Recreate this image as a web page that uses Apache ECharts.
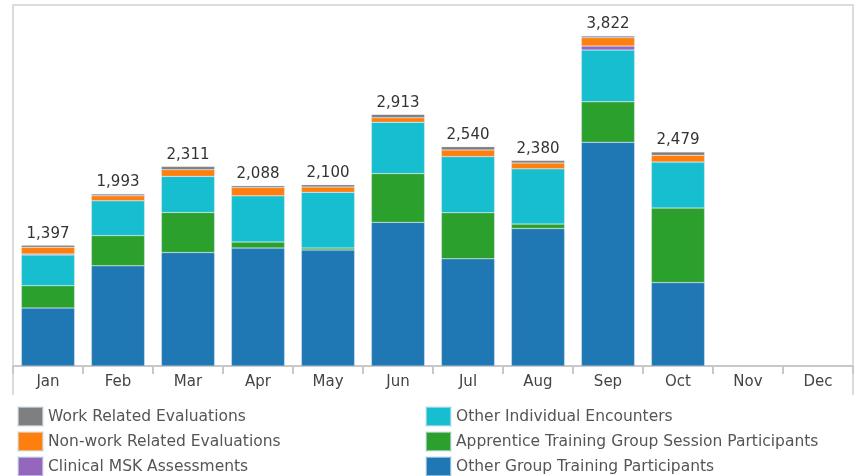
<!DOCTYPE html>
<html>
<head>
<meta charset="utf-8">
<script src="https://cdn.jsdelivr.net/npm/echarts@6/dist/echarts.min.js"></script>
<style>
  html, body { margin: 0; padding: 0; background: #fff; }
  #chart { width: 859px; height: 476px; }
</style>
</head>
<body>
<div id="chart"></div>
<script>
  // months on the x axis
  var months = ['Jan', 'Feb', 'Mar', 'Apr', 'May', 'Jun', 'Jul', 'Aug', 'Sep', 'Oct', 'Nov', 'Dec'];

  // stacked series, bottom to top
  var otherGroup    = [672, 1160, 1314, 1366, 1343, 1663, 1241, 1592, 2590, 966, null, null];
  var apprentice    = [258, 350, 464, 70, 23, 565, 534, 51, 469, 863, null, null];
  var otherIndiv    = [356, 404, 418, 535, 645, 595, 650, 641, 599, 534, null, null];
  var clinicalMsk   = [10, 0, 0, 0, 0, 0, 0, 0, 46, 0, null, null];
  var nonWorkEval   = [78, 56, 77, 97, 62, 51, 77, 66, 97, 77, null, null];
  var workEval      = [23, 23, 38, 20, 27, 39, 38, 30, 21, 39, null, null];

  // totals printed over the bars
  var totals = [1397, 1993, 2311, 2088, 2100, 2913, 2540, 2380, 3822, 2479, null, null];

  var font = 'DejaVu Sans';
  var chart = echarts.init(document.getElementById('chart'));

  function bar(name, data, color, withTotal) {
    var s = {
      name: name,
      type: 'bar',
      stack: 'all',
      data: data,
      barCategoryGap: '24%',
      itemStyle: { color: color, borderColor: 'rgba(210,228,240,0.6)', borderWidth: 0.5 },
      emphasis: { disabled: true }
    };
    if (withTotal) {
      s.label = {
        show: true,
        position: 'top',
        distance: 4,
        color: '#333',
        fontFamily: font,
        fontSize: 15,
        formatter: function (p) {
          var t = totals[p.dataIndex];
          return t == null ? '' : t.toLocaleString('en-US');
        }
      };
    }
    return s;
  }

  var legendBase = {
    top: 406, height: 90, padding: 0, orient: 'vertical',
    itemWidth: 25, itemHeight: 19, itemGap: 4,
    icon: 'rect',
    textStyle: { color: '#555', fontFamily: font, fontSize: 15.5 }
  };

  var option = {
    animation: false,
    grid: { left: 13, right: 6, top: 5, bottom: 110 },
    xAxis: {
      type: 'category',
      data: months,
      axisLine: { lineStyle: { color: '#c8c8c8', width: 2 } },
      axisTick: { show: true, length: 8, lineStyle: { color: '#c8c8c8', width: 2 } },
      axisLabel: { color: '#444', fontFamily: font, fontSize: 15, margin: 9 }
    },
    yAxis: {
      type: 'value',
      min: 0,
      max: 4180,
      show: false
    },
    legend: [
      Object.assign({}, legendBase, {
        left: 17,
        data: ['Work Related Evaluations', 'Non-work Related Evaluations', 'Clinical MSK Assessments']
      }),
      Object.assign({}, legendBase, {
        left: 425,
        data: ['Other Individual Encounters', 'Apprentice Training Group Session Participants', 'Other Group Training Participants']
      })
    ],
    graphic: [
      {
        type: 'polyline',
        shape: { points: [[13, 395], [13, 5], [853, 5], [853, 395]] },
        style: { stroke: '#dcdcdc', lineWidth: 2, fill: null },
        silent: true
      }
    ],
    series: [
      bar('Other Group Training Participants', otherGroup, '#1f77b4'),
      bar('Apprentice Training Group Session Participants', apprentice, '#2ca02c'),
      bar('Other Individual Encounters', otherIndiv, '#17becf'),
      bar('Clinical MSK Assessments', clinicalMsk, '#9467bd'),
      bar('Non-work Related Evaluations', nonWorkEval, '#ff7f0e'),
      bar('Work Related Evaluations', workEval, '#7f7f7f', true)
    ]
  };

  chart.setOption(option, true);
  window.addEventListener('resize', function () {
    chart.resize();
  });
</script>
</body>
</html>
